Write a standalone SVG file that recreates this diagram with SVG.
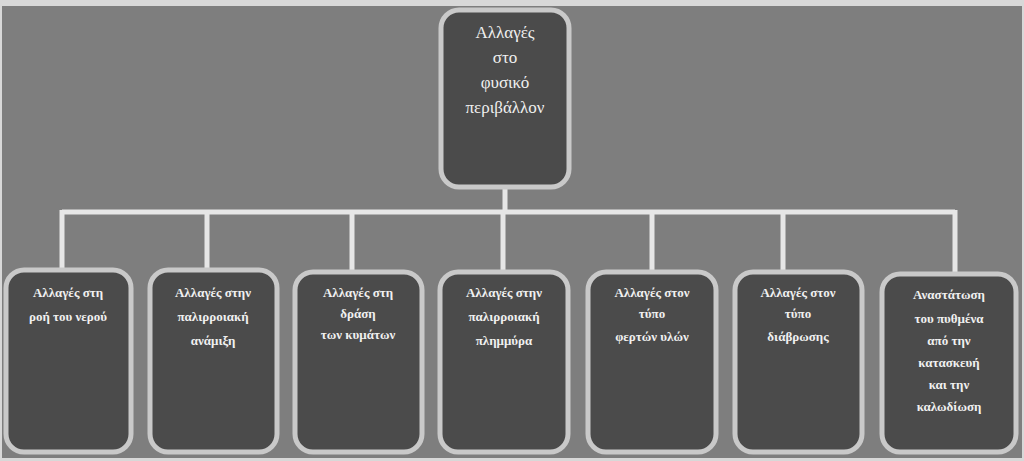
<svg xmlns="http://www.w3.org/2000/svg" width="1024" height="461" viewBox="0 0 1024 461">
<style>
.box{fill:#4b4b4b;stroke:#c9c9c9;stroke-width:5}
.t{fill:#f0f0f0;font-family:"Liberation Serif",serif;font-size:13px;font-weight:bold;text-anchor:middle}
.tt{fill:#f0f0f0;font-family:"Liberation Serif",serif;font-size:17px;text-anchor:middle}
.c{stroke:#e6e6e6;stroke-width:5;fill:none}
</style>
<rect x="0" y="0" width="1024" height="461" fill="#d8d8d8"/>
<rect x="2" y="6" width="1020" height="452" fill="#7e7e7e"/>
<g id="connectors" class="c">
<path d="M505 188V212M62 212H955M62 210V272M207 210V272M352 210V272M503 210V272M652 210V272M783 210V272M955 210V272"/>
</g>
<g id="root"><rect class="box" x="441" y="10" width="128" height="177" rx="18"/>
<text class="tt" x="505" y="38">Αλλαγές</text><text class="tt" x="505" y="63">στο</text><text class="tt" x="505" y="88">φυσικό</text><text class="tt" x="505" y="113">περιβάλλον</text></g>
<g id="n1"><rect class="box" x="6" y="270" width="125" height="182" rx="18"/>
<text class="t" x="68" y="297">Αλλαγές στη</text><text class="t" x="68" y="321">ροή του νερού</text></g>
<g id="n2"><rect class="box" x="150" y="270" width="127" height="182" rx="18"/>
<text class="t" x="213" y="297">Αλλαγές στην</text><text class="t" x="213" y="321">παλιρροιακή</text><text class="t" x="213" y="345">ανάμιξη</text></g>
<g id="n3"><rect class="box" x="295" y="272" width="127" height="180" rx="18"/>
<text class="t" x="358" y="297">Αλλαγές στη</text><text class="t" x="358" y="318">δράση</text><text class="t" x="358" y="339">των κυμάτων</text></g>
<g id="n4"><rect class="box" x="440" y="272" width="128" height="180" rx="18"/>
<text class="t" x="504" y="297">Αλλαγές στην</text><text class="t" x="504" y="321">παλιρροιακή</text><text class="t" x="504" y="345">πλημμύρα</text></g>
<g id="n5"><rect class="box" x="588" y="272" width="128" height="180" rx="18"/>
<text class="t" x="652" y="297">Αλλαγές στον</text><text class="t" x="652" y="318">τύπο</text><text class="t" x="652" y="341">φερτών υλών</text></g>
<g id="n6"><rect class="box" x="735" y="272" width="127" height="180" rx="18"/>
<text class="t" x="798" y="297">Αλλαγές στον</text><text class="t" x="798" y="318">τύπο</text><text class="t" x="798" y="341">διάβρωσης</text></g>
<g id="n7"><rect class="box" x="882" y="274" width="134" height="178" rx="18"/>
<text class="t" x="949" y="299">Αναστάτωση</text><text class="t" x="949" y="323">του πυθμένα</text><text class="t" x="949" y="345">από την</text><text class="t" x="949" y="367">κατασκευή</text><text class="t" x="949" y="389">και την</text><text class="t" x="949" y="411">καλωδίωση</text></g>
</svg>
